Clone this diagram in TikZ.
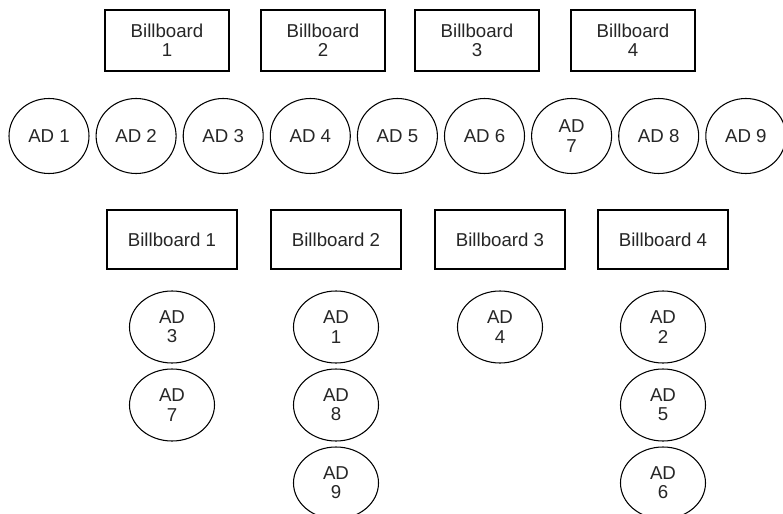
\documentclass[tikz,border=0pt]{standalone}
\usepackage{fontspec}
\setmainfont{Liberation Sans}
\usetikzlibrary{shapes.geometric}

\begin{document}
\begin{tikzpicture}[x=0.75pt,y=-0.75pt]
		\tikzset{
			every node/.style=
			{draw,line width=0.8pt,inner sep=0pt,align=center,text=black!85,
			font=\fontsize{14}{14.5}\selectfont},
			billboard/.style=
			{rectangle,minimum width=93pt,minimum height=45.75pt},
			billboard wide/.style=
			{rectangle,minimum width=97.5pt,minimum height=44.25pt},
			ad/.style=
			{ellipse,minimum width=60pt,minimum height=56.25pt},
			ad small/.style=
			{ellipse,minimum width=63.75pt,minimum height=54pt},
		}
		\useasboundingbox (0,0) rectangle (783,514);
		\begin{scope}
		% billboards and ads, unassigned
		\foreach \i/\x in {1/167,2/323,3/477,4/633}
			\node[billboard] (bbtop\i) at (\x,40.5) {Billboard\\\i};
		\foreach \i/\txt in {1/AD 1,2/AD 2,3/AD 3,4/AD 4,5/AD 5,6/AD 6,7/{AD\\7},8/AD 8,9/AD 9}
			\node[ad] (adtop\i) at ({49+87.1*(\i-1)},136) {\txt};
		\end{scope}
		\begin{scope}
		% assignment of ads to billboards
		\node[billboard wide] (bb1) at (172,239.5) {Billboard 1};
		\node[billboard wide] (bb2) at (336,239.5) {Billboard 2};
		\node[billboard wide] (bb3) at (500,239.5) {Billboard 3};
		\node[billboard wide] (bb4) at (663,239.5) {Billboard 4};
		\node[ad small] (ad3) at (172,327) {AD\\3};
		\node[ad small] (ad7) at (172,405) {AD\\7};
		\node[ad small] (ad1) at (336,327) {AD\\1};
		\node[ad small] (ad8) at (336,405) {AD\\8};
		\node[ad small] (ad9) at (336,483) {AD\\9};
		\node[ad small] (ad4) at (500,327) {AD\\4};
		\node[ad small] (ad2) at (663,327) {AD\\2};
		\node[ad small] (ad5) at (663,405) {AD\\5};
		\node[ad small] (ad6) at (663,483) {AD\\6};
		\end{scope}
\end{tikzpicture}
\end{document}
